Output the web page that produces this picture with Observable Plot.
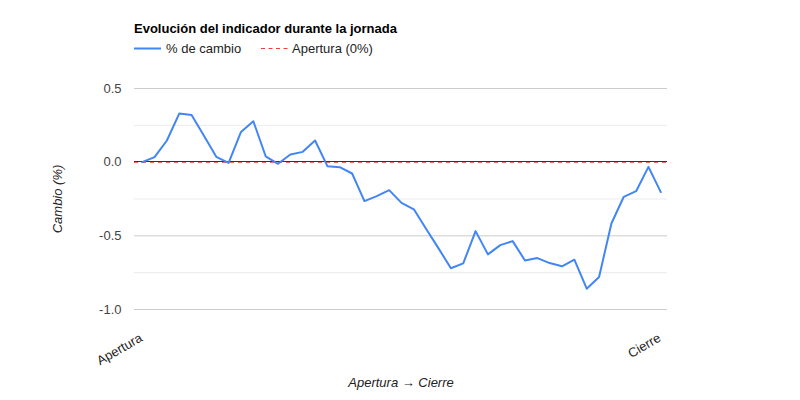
<!DOCTYPE html>
<html>
<head>
<meta charset="utf-8">
<script src="https://cdn.jsdelivr.net/npm/d3@7"></script>
<script src="https://cdn.jsdelivr.net/npm/@observablehq/plot@0.6"></script>
<style>
  body { margin: 0; background: #fff; font-family: Arial, "Liberation Sans", sans-serif; }
  #wrap { width: 800px; }
  #head { position: relative; height: 62px; }
  .abs { position: absolute; white-space: nowrap; font-size: 13px; line-height: 16px; color: #222; }
  .title { font-weight: bold; color: #000; }
  .sw { position: absolute; }
</style>
</head>
<body>
<div id="wrap">
  <div id="head">
    <div class="abs title" style="left:134px; top:21px;">Evolución del indicador durante la jornada</div>
    <svg class="sw" style="left:134px; top:44px;" width="27" height="10"><line x1="0" x2="27" y1="4.5" y2="4.5" stroke="#4285f4" stroke-width="2"/></svg>
    <div class="abs" style="left:166px; top:41px;">% de cambio</div>
    <svg class="sw" style="left:261px; top:44px;" width="27" height="10"><line x1="0" x2="27" y1="4.5" y2="4.5" stroke="#ea4335" stroke-width="1" stroke-dasharray="4,3.5"/></svg>
    <div class="abs" style="left:292px; top:41px;">Apertura (0%)</div>
  </div>
  <div id="chart"></div>
</div>
<script>
// % change through the session (43 observations, opening -> close)
const changeValues = [
  0.0, 0.034, 0.147, 0.33, 0.32, 0.18, 0.036, -0.005, 0.205, 0.278,
  0.04, -0.011, 0.052, 0.07, 0.147, -0.027, -0.034, -0.077, -0.264, -0.23,
  -0.19, -0.276, -0.32, -0.453, -0.585, -0.72, -0.687, -0.468, -0.626, -0.563,
  -0.536, -0.667, -0.651, -0.685, -0.707, -0.662, -0.859, -0.78, -0.416, -0.235,
  -0.197, -0.032, -0.203
];
const xTickSteps = [0, 42];
const xTickLabels = ["Apertura", "Cierre"];
const yMajorTicks = [-1, -0.5, 0, 0.5];
const yMinorTicks = [-0.75, -0.25, 0.25];
const baselineValue = [0];

const rows = changeValues.map((v, i) => ({ step: i, change: v }));

const chart = Plot.plot({
  width: 800,
  height: 338,
  marginTop: 26,
  marginBottom: 91,
  marginLeft: 134,
  marginRight: 133,
  x: { domain: [0, 42], insetLeft: 7.7, insetRight: 6.7, axis: null },
  y: { domain: [-1, 0.5], axis: null },
  style: { fontFamily: 'Arial, "Liberation Sans", sans-serif', fontSize: "13px", background: "#fff" },
  marks: [
    Plot.ruleY(yMinorTicks, { stroke: "#ebebeb" }),
    Plot.ruleY(yMajorTicks.filter(d => d !== 0), { stroke: "#cccccc" }),
    Plot.ruleY(baselineValue, { stroke: "#ea4335", strokeDasharray: "4,4", strokeOpacity: 0.8, dy: 0.33 }),
    Plot.ruleY(baselineValue, { stroke: "#333333", dy: -0.67 }),
    Plot.line(rows, { x: "step", y: "change", stroke: "#4285f4", strokeWidth: 2 }),
    Plot.text(yMajorTicks, { y: d => d, text: d => d.toFixed(1), frameAnchor: "left", textAnchor: "end", dx: -13, fill: "#444" }),
    Plot.text(xTickSteps, { x: d => d, text: (d, i) => xTickLabels[i], frameAnchor: "bottom", rotate: -30, textAnchor: "end", dx: 1, dy: 31, fill: "#222" }),
    Plot.text(["Cambio (%)"], { text: d => d, frameAnchor: "left", textAnchor: "middle", rotate: -90, dx: -77, fontStyle: "italic", fill: "#222" }),
    Plot.text(["Apertura → Cierre"], { text: d => d, frameAnchor: "bottom", lineAnchor: "middle", dy: 73, fontStyle: "italic", fill: "#222" })
  ]
});
document.getElementById("chart").appendChild(chart);
</script>
</body>
</html>
